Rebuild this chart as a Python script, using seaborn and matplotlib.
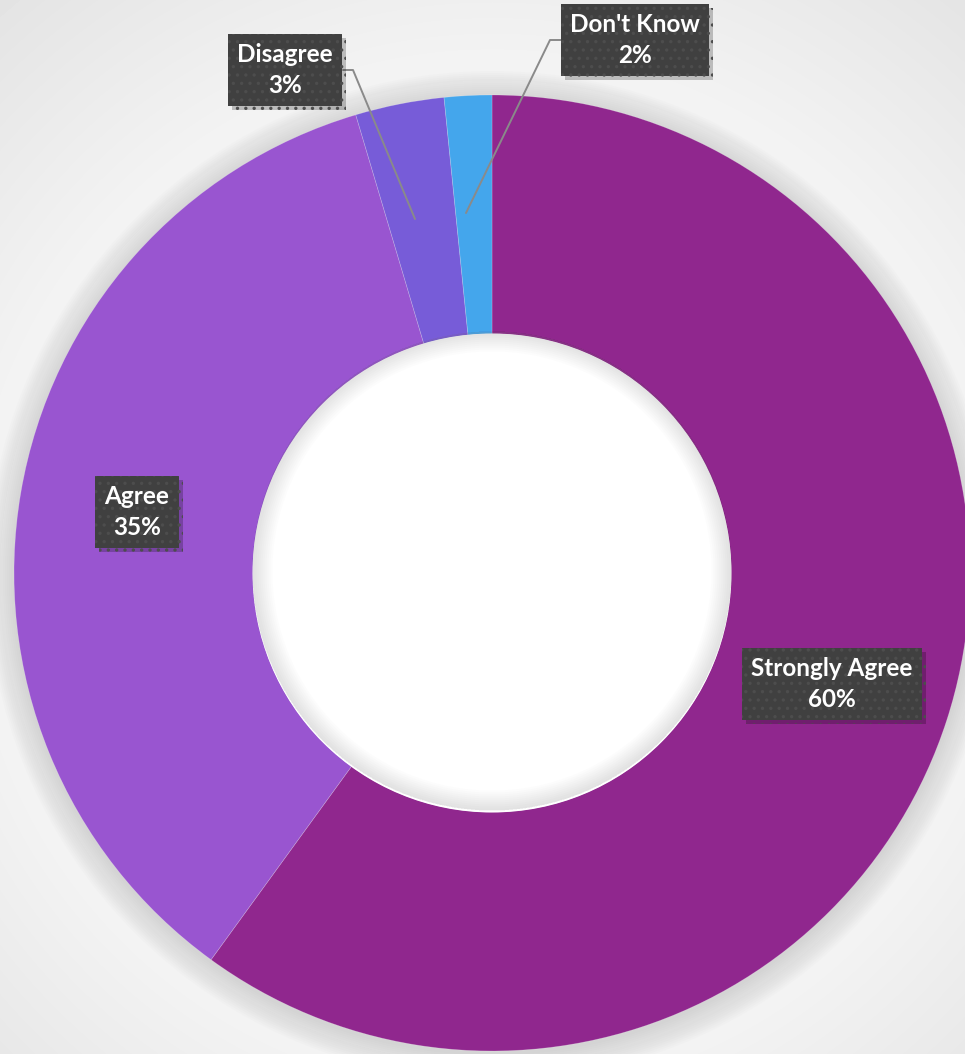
import numpy as np
import matplotlib
matplotlib.use("Agg")
import matplotlib.pyplot as plt
import matplotlib.patheffects as pe
from matplotlib.patches import Wedge, Circle
import seaborn as sns

# survey answers, clockwise from 12 o'clock
categories = ["Strongly Agree", "Agree", "Disagree", "Don't Know"]
shares = [60.0, 35.4, 3.0, 1.6]
pct_labels = ["60%", "35%", "3%", "2%"]
colors = ["#90278E", "#9955D0", "#775CD8", "#44A6EC"]

W, H = 965, 1054
cx, cy, R = 492, 481, 478
hole = 239

sns.set_theme(style="white")
plt.rcParams["font.family"] = ["Lato", "DejaVu Sans"]
plt.rcParams["hatch.linewidth"] = 1.2

fig = plt.figure(figsize=(W / 100, H / 100), dpi=100)
ax = fig.add_axes([0, 0, 1, 1])

# radial grey background
yy, xx = np.mgrid[0:H, 0:W]
d = np.hypot(xx - cx, yy - cy)
shade = np.clip(0.975 - (d - 420) / 340 * 0.085, 0.885, 0.975)
ax.imshow(shade, cmap="gray", vmin=0, vmax=1, extent=(0, W, 0, H),
          origin="lower", zorder=0)

# soft drop shadow around the ring
for i in range(14):
    ax.add_patch(Circle((cx, cy - 3), R + 1 + i * 2, color="#808080",
                        alpha=0.02, lw=0, zorder=1))

wedges, _ = ax.pie(shares, colors=colors, startangle=90, counterclock=False,
                   center=(cx, cy), radius=R, frame=True,
                   wedgeprops=dict(width=R - hole, linewidth=0.5,
                                   edgecolor="#ffffff40"))
for w in wedges:
    w.set_zorder(2)
ax.set_xlim(0, W)
ax.set_ylim(0, H)
ax.set_aspect("equal")
ax.axis("off")

# white hole with soft inner shadow
ax.add_patch(Circle((cx, cy), hole + 0.5, color="white", lw=0, zorder=3))
for i in range(10):
    ax.add_patch(Wedge((cx, cy + 2), hole + 0.5, 0, 360, width=2 + i * 2,
                       color="#808080", alpha=0.018, lw=0, zorder=4))

# data labels (box centre in pixel layout, leader line points)
label_pos = [(832, 370), (137, 542), (285, 984), (635, 1014)]
leaders = [None, None,
           [(343, 984), (353, 984), (415, 835)],
           [(562, 1014), (550, 1014), (466, 841)]]

for name, pct, (lx, ly), lead in zip(categories, pct_labels, label_pos, leaders):
    if lead is not None:
        xs, ys = zip(*lead)
        ax.plot(xs, ys, color="#8a8a8a", lw=1.4, zorder=5)
    t = ax.text(lx, ly, f"{name}\n{pct}", ha="center", va="center",
                color="white", fontsize=17.5, fontweight="bold",
                linespacing=1.4, zorder=6,
                bbox=dict(boxstyle="square,pad=0.38", facecolor="#404040",
                          edgecolor="#4d4d4d", hatch="..", linewidth=0))
    t.get_bbox_patch().set_path_effects([
        pe.SimplePatchShadow(offset=(3, -3), shadow_rgbFace="#000000", alpha=0.22),
        pe.Normal()])

fig.savefig("out.png", dpi=100)
